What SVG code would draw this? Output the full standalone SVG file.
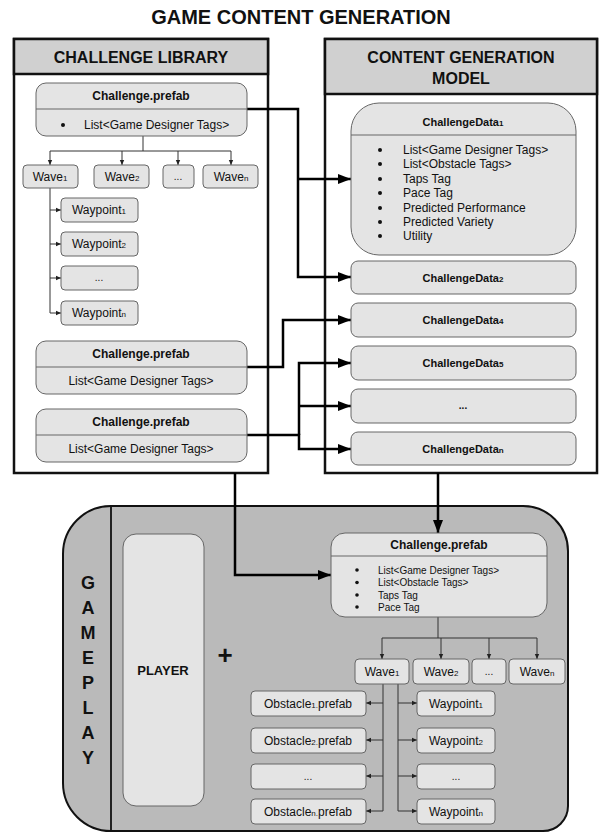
<svg xmlns="http://www.w3.org/2000/svg" width="602" height="834" viewBox="0 0 602 834">
<defs>
<style>
text{font-family:"Liberation Sans",Arial,sans-serif;fill:#111}
.b{font-weight:bold}
.c{text-anchor:middle}
.box{fill:#e4e4e4;stroke:#666;stroke-width:1}
.div{stroke:#666;stroke-width:1}
.frame{fill:#fff;stroke:#111;stroke-width:2.5}
.hdr{fill:#d0d0d0;stroke:#111;stroke-width:2.5}
.thick{fill:none;stroke:#000;stroke-width:2.5}
.thin{fill:none;stroke:#333;stroke-width:1}
.t12{font-size:12px}
.t11{font-size:11px}
.t10{font-size:10px}
.s{font-size:8px}
</style>
<marker id="ab" markerUnits="userSpaceOnUse" markerWidth="14" markerHeight="12" refX="13" refY="6" orient="auto" viewBox="0 0 14 12"><path d="M0,1 L13,6 L0,11 z" fill="#000"/></marker>
<marker id="as" markerUnits="userSpaceOnUse" markerWidth="6" markerHeight="6" refX="5" refY="3" orient="auto" viewBox="0 0 6 6"><path d="M0,0.8 L5,3 L0,5.2 z" fill="#222"/></marker>
</defs>
<rect width="602" height="834" fill="#fff"/>
<text x="301" y="24" class="b c" font-size="20">GAME CONTENT GENERATION</text>

<g id="gameplay">
<path d="M111 506 H523 A45 45 0 0 1 568 551 V806 A25 25 0 0 1 543 831 H111 A48 48 0 0 1 63 783 V554 A48 48 0 0 1 111 506 Z" fill="#bababa" stroke="#111" stroke-width="2"/>
<line x1="111" y1="506" x2="111" y2="831" stroke="#111" stroke-width="1.8"/>
<g class="b c" font-size="18">
<text x="88" y="589">G</text><text x="88" y="614">A</text><text x="88" y="639">M</text><text x="88" y="664">E</text>
<text x="88" y="689">P</text><text x="88" y="714">L</text><text x="88" y="739">A</text><text x="88" y="764">Y</text>
</g>
</g>

<g id="challenge-library">
<rect x="14" y="39" width="254" height="434" class="frame"/>
<rect x="14" y="39" width="254" height="35" class="hdr"/>
<text x="141" y="63" class="b c" font-size="16">CHALLENGE LIBRARY</text>
</g>

<g id="content-generation-model">
<rect x="325" y="39" width="272" height="434" class="frame"/>
<rect x="325" y="39" width="272" height="55" class="hdr"/>
<text x="461" y="63" class="b c" font-size="16">CONTENT GENERATION</text>
<text x="461" y="84" class="b c" font-size="16">MODEL</text>
</g>

<g id="connectors">
<path class="thick" d="M247 109 H298 V277 H351" marker-end="url(#ab)"/>
<path class="thick" d="M298 179 H351" marker-end="url(#ab)"/>
<path class="thick" d="M247 367 H283 V320 H351" marker-end="url(#ab)"/>
<path class="thick" d="M247 435 H299 V449 H351" marker-end="url(#ab)"/>
<path class="thick" d="M299 435 V363 H351" marker-end="url(#ab)"/>
<path class="thick" d="M299 406 H351" marker-end="url(#ab)"/>
<path class="thick" d="M235 473 V575 H331" marker-end="url(#ab)"/>
<path class="thick" d="M438 473 V533" marker-end="url(#ab)"/>
<path class="thin" d="M143 136 V151 M50 151 H231"/>
<path class="thin" d="M50 151 V165" marker-end="url(#as)"/>
<path class="thin" d="M122 151 V165" marker-end="url(#as)"/>
<path class="thin" d="M178 151 V165" marker-end="url(#as)"/>
<path class="thin" d="M231 151 V165" marker-end="url(#as)"/>
<path class="thin" d="M50 188 V313 H61" marker-end="url(#as)"/>
<path class="thin" d="M50 210 H61" marker-end="url(#as)"/>
<path class="thin" d="M50 244 H61" marker-end="url(#as)"/>
<path class="thin" d="M50 278 H61" marker-end="url(#as)"/>
<path class="thin" d="M438 617 V638 M382 638 H537"/>
<path class="thin" d="M382 638 V659" marker-end="url(#as)"/>
<path class="thin" d="M441 638 V659" marker-end="url(#as)"/>
<path class="thin" d="M489 638 V659" marker-end="url(#as)"/>
<path class="thin" d="M537 638 V659" marker-end="url(#as)"/>
<path class="thin" d="M383 684 V811 H366" marker-end="url(#as)"/>
<path class="thin" d="M383 703 H366" marker-end="url(#as)"/>
<path class="thin" d="M383 740 H366" marker-end="url(#as)"/>
<path class="thin" d="M383 776 H366" marker-end="url(#as)"/>
<path class="thin" d="M398 684 V811 H417" marker-end="url(#as)"/>
<path class="thin" d="M398 703 H417" marker-end="url(#as)"/>
<path class="thin" d="M398 740 H417" marker-end="url(#as)"/>
<path class="thin" d="M398 776 H417" marker-end="url(#as)"/>
</g>

<g id="lib-prefab1">
<rect x="36" y="83" width="211" height="53" rx="10" class="box"/>
<line x1="36" y1="109" x2="247" y2="109" class="div"/>
<text x="141" y="100" class="b c t12">Challenge.prefab</text>
<circle cx="63" cy="125" r="2" fill="#111"/>
<text x="84" y="129" class="t12">List&lt;Game Designer Tags&gt;</text>
</g>
<g id="lib-wave1"><rect x="23" y="165" width="55" height="23" rx="4" class="box"/><text x="50" y="181" class="c t12">Wave<tspan class="s">1</tspan></text></g>
<g id="lib-wave2"><rect x="94" y="165" width="55" height="23" rx="4" class="box"/><text x="122" y="181" class="c t12">Wave<tspan class="s">2</tspan></text></g>
<g id="lib-wave-dots"><rect x="163" y="165" width="31" height="23" rx="4" class="box"/><text x="178" y="180" class="c t10">...</text></g>
<g id="lib-waven"><rect x="203" y="165" width="55" height="23" rx="4" class="box"/><text x="231" y="181" class="c t12">Wave<tspan class="s">n</tspan></text></g>
<g id="lib-waypoint1"><rect x="61" y="198" width="77" height="24" rx="4" class="box"/><text x="99" y="214" class="c t12">Waypoint<tspan class="s">1</tspan></text></g>
<g id="lib-waypoint2"><rect x="61" y="232" width="77" height="24" rx="4" class="box"/><text x="99" y="248" class="c t12">Waypoint<tspan class="s">2</tspan></text></g>
<g id="lib-waypoint-dots"><rect x="61" y="266" width="77" height="24" rx="4" class="box"/><text x="99" y="281" class="c t10">...</text></g>
<g id="lib-waypointn"><rect x="61" y="301" width="77" height="24" rx="4" class="box"/><text x="99" y="317" class="c t12">Waypoint<tspan class="s">n</tspan></text></g>

<g id="lib-prefab2">
<rect x="36" y="341" width="211" height="53" rx="10" class="box"/>
<line x1="36" y1="367" x2="247" y2="367" class="div"/>
<text x="141" y="358" class="b c t12">Challenge.prefab</text>
<text x="141" y="385" class="c t12">List&lt;Game Designer Tags&gt;</text>
</g>
<g id="lib-prefab3">
<rect x="36" y="409" width="211" height="53" rx="10" class="box"/>
<line x1="36" y1="435" x2="247" y2="435" class="div"/>
<text x="141" y="426" class="b c t12">Challenge.prefab</text>
<text x="141" y="453" class="c t12">List&lt;Game Designer Tags&gt;</text>
</g>

<g id="challengedata1">
<rect x="351" y="103" width="225" height="152" rx="28" class="box"/>
<line x1="351" y1="135" x2="576" y2="135" class="div"/>
<text x="463" y="126" class="b c t11">ChallengeData<tspan class="s">1</tspan></text>
<g fill="#111"><circle cx="380" cy="150" r="2"/><circle cx="380" cy="164" r="2"/><circle cx="380" cy="179" r="2"/><circle cx="380" cy="193" r="2"/><circle cx="380" cy="208" r="2"/><circle cx="380" cy="222" r="2"/><circle cx="380" cy="236" r="2"/></g>
<g class="t12">
<text x="403" y="154">List&lt;Game Designer Tags&gt;</text>
<text x="403" y="168">List&lt;Obstacle Tags&gt;</text>
<text x="403" y="183">Taps Tag</text>
<text x="403" y="197">Pace Tag</text>
<text x="403" y="212">Predicted Performance</text>
<text x="403" y="226">Predicted Variety</text>
<text x="403" y="240">Utility</text>
</g>
</g>
<g id="challengedata2"><rect x="351" y="261" width="225" height="33" rx="7" class="box"/><text x="463" y="282" class="b c t11">ChallengeData<tspan class="s">2</tspan></text></g>
<g id="challengedata4"><rect x="351" y="303" width="225" height="34" rx="7" class="box"/><text x="463" y="324" class="b c t11">ChallengeData<tspan class="s">4</tspan></text></g>
<g id="challengedata5"><rect x="351" y="346" width="225" height="34" rx="7" class="box"/><text x="463" y="367" class="b c t11">ChallengeData<tspan class="s">5</tspan></text></g>
<g id="challengedata-dots"><rect x="351" y="389" width="225" height="34" rx="7" class="box"/><text x="463" y="409" class="b c t10">...</text></g>
<g id="challengedatan"><rect x="351" y="432" width="225" height="33" rx="7" class="box"/><text x="463" y="453" class="b c t11">ChallengeData<tspan class="s">n</tspan></text></g>

<g id="player"><rect x="123" y="534" width="81" height="272" rx="13" class="box"/><text x="163" y="675" class="b c" font-size="13">PLAYER</text></g>
<g id="plus"><text x="225" y="664" class="b c" font-size="26">+</text></g>

<g id="game-prefab">
<rect x="331" y="533" width="216" height="84" rx="14" class="box"/>
<line x1="331" y1="556" x2="547" y2="556" class="div"/>
<text x="439" y="549" class="b c t12">Challenge.prefab</text>
<g fill="#111"><circle cx="357" cy="570" r="1.8"/><circle cx="357" cy="582.5" r="1.8"/><circle cx="357" cy="595" r="1.8"/><circle cx="357" cy="607" r="1.8"/></g>
<g class="t10">
<text x="378" y="573.5">List&lt;Game Designer Tags&gt;</text>
<text x="378" y="586">List&lt;Obstacle Tags&gt;</text>
<text x="378" y="598.5">Taps Tag</text>
<text x="378" y="610.5">Pace Tag</text>
</g>
</g>
<g id="game-wave1"><rect x="355" y="659" width="54" height="25" rx="4" class="box"/><text x="382" y="676" class="c t12">Wave<tspan class="s">1</tspan></text></g>
<g id="game-wave2"><rect x="413" y="659" width="56" height="25" rx="4" class="box"/><text x="441" y="676" class="c t12">Wave<tspan class="s">2</tspan></text></g>
<g id="game-wave-dots"><rect x="472" y="659" width="34" height="25" rx="4" class="box"/><text x="489" y="675" class="c t10">...</text></g>
<g id="game-waven"><rect x="509" y="659" width="56" height="25" rx="4" class="box"/><text x="537" y="676" class="c t12">Wave<tspan class="s">n</tspan></text></g>

<g id="obstacle1"><rect x="251" y="691" width="115" height="25" rx="4" class="box"/><text x="308" y="708" class="c t12">Obstacle<tspan class="s">1.</tspan>prefab</text></g>
<g id="obstacle2"><rect x="251" y="728" width="115" height="25" rx="4" class="box"/><text x="308" y="745" class="c t12">Obstacle<tspan class="s">2.</tspan>prefab</text></g>
<g id="obstacle-dots"><rect x="251" y="764" width="115" height="25" rx="4" class="box"/><text x="308" y="780" class="c t10">...</text></g>
<g id="obstaclen"><rect x="251" y="799" width="115" height="25" rx="4" class="box"/><text x="308" y="816" class="c t12">Obstacle<tspan class="s">n.</tspan>prefab</text></g>
<g id="game-waypoint1"><rect x="417" y="691" width="78" height="25" rx="4" class="box"/><text x="456" y="708" class="c t12">Waypoint<tspan class="s">1</tspan></text></g>
<g id="game-waypoint2"><rect x="417" y="728" width="78" height="25" rx="4" class="box"/><text x="456" y="745" class="c t12">Waypoint<tspan class="s">2</tspan></text></g>
<g id="game-waypoint-dots"><rect x="417" y="764" width="78" height="25" rx="4" class="box"/><text x="456" y="780" class="c t10">...</text></g>
<g id="game-waypointn"><rect x="417" y="799" width="78" height="25" rx="4" class="box"/><text x="456" y="816" class="c t12">Waypoint<tspan class="s">n</tspan></text></g>
</svg>
